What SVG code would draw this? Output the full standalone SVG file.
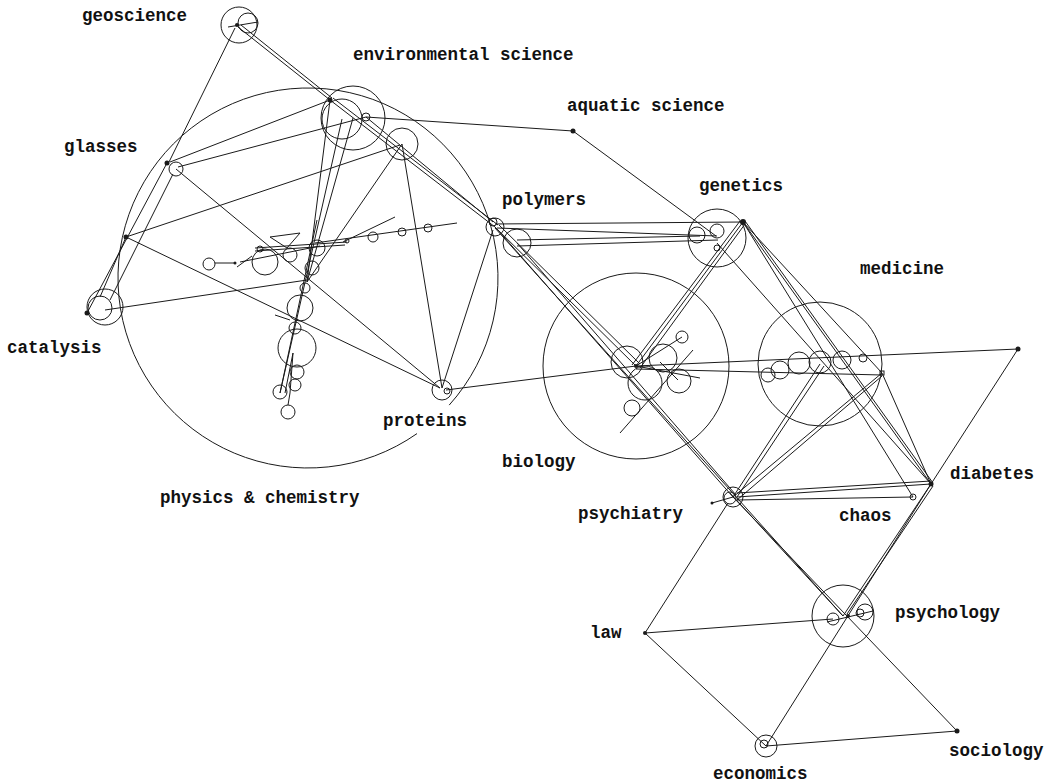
<svg xmlns="http://www.w3.org/2000/svg" width="1049" height="784" viewBox="0 0 1049 784">
<style>
.e{stroke:#1a1a1a;stroke-width:1;fill:none}
.n{fill:none;stroke:#1a1a1a;stroke-width:1}
.d{fill:#1a1a1a}
.t{font-family:"Liberation Mono","Courier New",monospace;font-weight:bold;font-size:17.5px;fill:#111}
</style>
<rect width="1049" height="784" fill="#fff"/>
<g id="connectors">
<line class="e" x1="238" y1="27" x2="330" y2="100"/>
<line class="e" x1="241" y1="25" x2="332" y2="98"/>
<line class="e" x1="235" y1="28" x2="169" y2="162"/>
<line class="e" x1="167" y1="163" x2="87" y2="313"/>
<line class="e" x1="173" y1="174" x2="110" y2="300"/>
<line class="e" x1="126" y1="237" x2="100" y2="297"/>
<line class="e" x1="126" y1="237" x2="400" y2="145"/>
<line class="e" x1="126" y1="237" x2="440" y2="388"/>
<line class="e" x1="176" y1="169" x2="440" y2="388"/>
<line class="e" x1="170" y1="162" x2="330" y2="100"/>
<line class="e" x1="178" y1="167" x2="366" y2="117"/>
<line class="e" x1="105" y1="310" x2="307" y2="280"/>
<line class="e" x1="330" y1="100" x2="307" y2="282"/>
<line class="e" x1="353" y1="118" x2="307" y2="282"/>
<line class="e" x1="402" y1="144" x2="307" y2="282"/>
<line class="e" x1="342" y1="119" x2="280" y2="393"/>
<line class="e" x1="402" y1="144" x2="442" y2="388"/>
<line class="e" x1="366" y1="117" x2="573" y2="131"/>
<line class="e" x1="573" y1="131" x2="716" y2="236"/>
<line class="e" x1="330" y1="100" x2="495" y2="227"/>
<line class="e" x1="333" y1="98" x2="498" y2="225"/>
<line class="e" x1="366" y1="117" x2="493" y2="222"/>
<line class="e" x1="442" y1="388" x2="493" y2="230"/>
<line class="e" x1="446" y1="390" x2="636" y2="366"/>
<line class="e" x1="636" y1="366" x2="1018" y2="349"/>
<line class="e" x1="636" y1="369" x2="882" y2="375"/>
<line class="e" x1="495" y1="224" x2="743" y2="222"/>
<line class="e" x1="497" y1="228" x2="717" y2="236"/>
<line class="e" x1="517" y1="240" x2="700" y2="236"/>
<line class="e" x1="517" y1="246" x2="718" y2="240"/>
<line class="e" x1="495" y1="227" x2="636" y2="366"/>
<line class="e" x1="499" y1="225" x2="640" y2="364"/>
<line class="e" x1="497" y1="229" x2="733" y2="497"/>
<line class="e" x1="517" y1="243" x2="736" y2="495"/>
<line class="e" x1="495" y1="228" x2="843" y2="616"/>
<line class="e" x1="743" y1="222" x2="636" y2="366"/>
<line class="e" x1="740" y1="221" x2="632" y2="365"/>
<line class="e" x1="745" y1="224" x2="640" y2="368"/>
<line class="e" x1="743" y1="222" x2="931" y2="484"/>
<line class="e" x1="745" y1="221" x2="933" y2="483"/>
<line class="e" x1="743" y1="222" x2="913" y2="497"/>
<line class="e" x1="743" y1="222" x2="882" y2="373"/>
<line class="e" x1="717" y1="243" x2="931" y2="484"/>
<line class="e" x1="733" y1="497" x2="820" y2="364"/>
<line class="e" x1="737" y1="497" x2="824" y2="366"/>
<line class="e" x1="733" y1="497" x2="882" y2="373"/>
<line class="e" x1="737" y1="500" x2="882" y2="376"/>
<line class="e" x1="882" y1="373" x2="931" y2="484"/>
<line class="e" x1="1018" y1="349" x2="931" y2="484"/>
<line class="e" x1="737" y1="497" x2="931" y2="484"/>
<line class="e" x1="737" y1="493" x2="931" y2="481"/>
<line class="e" x1="737" y1="500" x2="913" y2="497"/>
<line class="e" x1="712" y1="503" x2="733" y2="497"/>
<line class="e" x1="733" y1="497" x2="957" y2="731"/>
<line class="e" x1="730" y1="493" x2="843" y2="616"/>
<line class="e" x1="843" y1="616" x2="931" y2="484"/>
<line class="e" x1="847" y1="614" x2="933" y2="486"/>
<line class="e" x1="766" y1="746" x2="931" y2="484"/>
<line class="e" x1="645" y1="633" x2="728" y2="503"/>
<line class="e" x1="645" y1="633" x2="833" y2="619"/>
<line class="e" x1="645" y1="633" x2="766" y2="746"/>
<line class="e" x1="766" y1="746" x2="957" y2="731"/>
</g>
<g id="geoscience">
<circle class="n" cx="239" cy="25" r="18"/>
<circle class="n" cx="248" cy="23" r="10"/>
<circle class="d" cx="237" cy="25" r="2"/>
<line class="e" x1="228" y1="27" x2="258" y2="22"/>
<text class="t" x="82" y="21">geoscience</text>
</g>
<g id="environmental-science">
<circle class="n" cx="353" cy="118" r="32"/>
<circle class="n" cx="342" cy="119" r="20"/>
<circle class="n" cx="366" cy="117" r="4"/>
<circle class="n" cx="402" cy="144" r="16"/>
<circle class="d" cx="330" cy="100" r="2.5"/>
<text class="t" x="353" y="60">environmental science</text>
</g>
<g id="aquatic-science">
<circle class="d" cx="573" cy="131" r="2.5"/>
<text class="t" x="567" y="111">aquatic science</text>
</g>
<g id="glasses">
<circle class="n" cx="176" cy="169" r="7" stroke-width="2"/>
<circle class="d" cx="167" cy="163" r="2.5"/>
<text class="t" x="64" y="152">glasses</text>
</g>
<g id="dot-left">
<circle class="d" cx="126" cy="237" r="2.5"/>
</g>
<g id="catalysis">
<circle class="n" cx="105" cy="307" r="18"/>
<circle class="n" cx="100" cy="308" r="12"/>
<circle class="d" cx="87" cy="313" r="2.5"/>
<text class="t" x="7" y="353">catalysis</text>
</g>
<g id="physics-chemistry">
<path class="n" d="M449.2,405.1 A190,190 0 1 0 417,433.6"/>
<circle class="n" cx="209" cy="264" r="6"/>
<line class="e" x1="215" y1="263" x2="235" y2="263"/>
<circle class="d" cx="235" cy="263" r="1.5"/>
<line class="e" x1="237" y1="267" x2="252" y2="256"/>
<circle class="n" cx="265" cy="262" r="13"/>
<circle class="n" cx="260" cy="249" r="3"/>
<polyline class="e" points="270,237 300,233 287,248 270,237"/>
<line class="e" x1="255" y1="248" x2="347" y2="242"/>
<line class="e" x1="255" y1="251" x2="345" y2="245"/>
<line class="e" x1="240" y1="262" x2="320" y2="246"/>
<circle class="n" cx="290" cy="255" r="7"/>
<circle class="n" cx="317" cy="248" r="8"/>
<circle class="n" cx="312" cy="268" r="7"/>
<circle class="n" cx="305" cy="288" r="5"/>
<circle class="n" cx="300" cy="308" r="13"/>
<circle class="n" cx="295" cy="328" r="6"/>
<circle class="n" cx="297" cy="348" r="19"/>
<circle class="n" cx="297" cy="372" r="7"/>
<circle class="n" cx="280" cy="392" r="7"/>
<circle class="n" cx="295" cy="385" r="6"/>
<circle class="n" cx="288" cy="412" r="7"/>
<line class="e" x1="317" y1="220" x2="280" y2="393"/>
<line class="e" x1="293" y1="353" x2="285" y2="393"/>
<line class="e" x1="293" y1="353" x2="290" y2="393"/>
<line class="e" x1="290" y1="393" x2="288" y2="405"/>
<line class="e" x1="275" y1="315" x2="290" y2="320"/>
<line class="e" x1="315" y1="243" x2="457" y2="223"/>
<line class="e" x1="343" y1="242" x2="395" y2="217"/>
<circle class="n" cx="373" cy="237" r="5"/>
<circle class="n" cx="402" cy="232" r="4"/>
<circle class="n" cx="428" cy="228" r="4"/>
<circle class="n" cx="347" cy="241" r="2"/>
<text class="t" x="160" y="503">physics &amp; chemistry</text>
</g>
<g id="proteins">
<circle class="n" cx="442" cy="390" r="10"/>
<circle class="n" cx="447" cy="391" r="3"/>
<text class="t" x="383" y="426">proteins</text>
</g>
<g id="polymers">
<circle class="n" cx="495" cy="227" r="9"/>
<circle class="n" cx="517" cy="243" r="14"/>
<circle class="n" cx="493" cy="222" r="4"/>
<text class="t" x="502" y="205">polymers</text>
</g>
<g id="genetics">
<circle class="n" cx="717" cy="238" r="29"/>
<circle class="n" cx="697" cy="235" r="8"/>
<circle class="n" cx="717" cy="231" r="7"/>
<circle class="n" cx="717" cy="248" r="3"/>
<circle class="d" cx="743" cy="222" r="3"/>
<text class="t" x="699" y="191">genetics</text>
</g>
<g id="biology">
<circle class="n" cx="636" cy="366" r="93"/>
<circle class="n" cx="627" cy="362" r="16"/>
<circle class="n" cx="663" cy="358" r="14"/>
<circle class="n" cx="645" cy="383" r="17"/>
<circle class="n" cx="679" cy="381" r="12"/>
<circle class="n" cx="682" cy="337" r="6"/>
<circle class="n" cx="632" cy="408" r="8"/>
<line class="e" x1="620" y1="433" x2="693" y2="350"/>
<line class="e" x1="636" y1="366" x2="682" y2="337"/>
<line class="e" x1="636" y1="366" x2="700" y2="378"/>
<line class="e" x1="660" y1="362" x2="678" y2="380"/>
<circle class="d" cx="636" cy="366" r="2"/>
<text class="t" x="502" y="467">biology</text>
</g>
<g id="medicine">
<circle class="n" cx="820" cy="364" r="62"/>
<circle class="n" cx="768" cy="375" r="7"/>
<circle class="n" cx="780" cy="370" r="9"/>
<circle class="n" cx="799" cy="363" r="11"/>
<circle class="n" cx="820" cy="362" r="11"/>
<circle class="n" cx="842" cy="360" r="9"/>
<circle class="n" cx="863" cy="358" r="4"/>
<rect class="n" x="880" y="371" width="4" height="4"/>
<text class="t" x="860" y="274">medicine</text>
</g>
<g id="dot-right">
<circle class="d" cx="1018" cy="349" r="2.5"/>
</g>
<g id="psychiatry">
<circle class="n" cx="733" cy="497" r="10"/>
<circle class="n" cx="730" cy="498" r="6"/>
<circle class="d" cx="712" cy="503" r="1.5"/>
<text class="t" x="578" y="519">psychiatry</text>
</g>
<g id="chaos">
<circle class="n" cx="913" cy="497" r="3"/>
<text class="t" x="839" y="521">chaos</text>
</g>
<g id="diabetes">
<circle class="d" cx="931" cy="484" r="2.5"/>
<text class="t" x="950" y="479">diabetes</text>
</g>
<g id="psychology">
<circle class="n" cx="843" cy="616" r="31"/>
<circle class="n" cx="833" cy="619" r="6"/>
<circle class="n" cx="865" cy="612" r="8"/>
<circle class="n" cx="860" cy="613" r="4"/>
<line class="e" x1="827" y1="622" x2="873" y2="611"/>
<circle class="d" cx="848" cy="616" r="2"/>
<text class="t" x="895" y="618">psychology</text>
</g>
<g id="law">
<circle class="d" cx="645" cy="633" r="2"/>
<text class="t" x="590" y="638">law</text>
</g>
<g id="economics">
<circle class="n" cx="766" cy="746" r="11"/>
<circle class="n" cx="764" cy="744" r="4"/>
<text class="t" x="713" y="779">economics</text>
</g>
<g id="sociology">
<circle class="d" cx="957" cy="731" r="2.5"/>
<text class="t" x="949" y="756">sociology</text>
</g>
</svg>
